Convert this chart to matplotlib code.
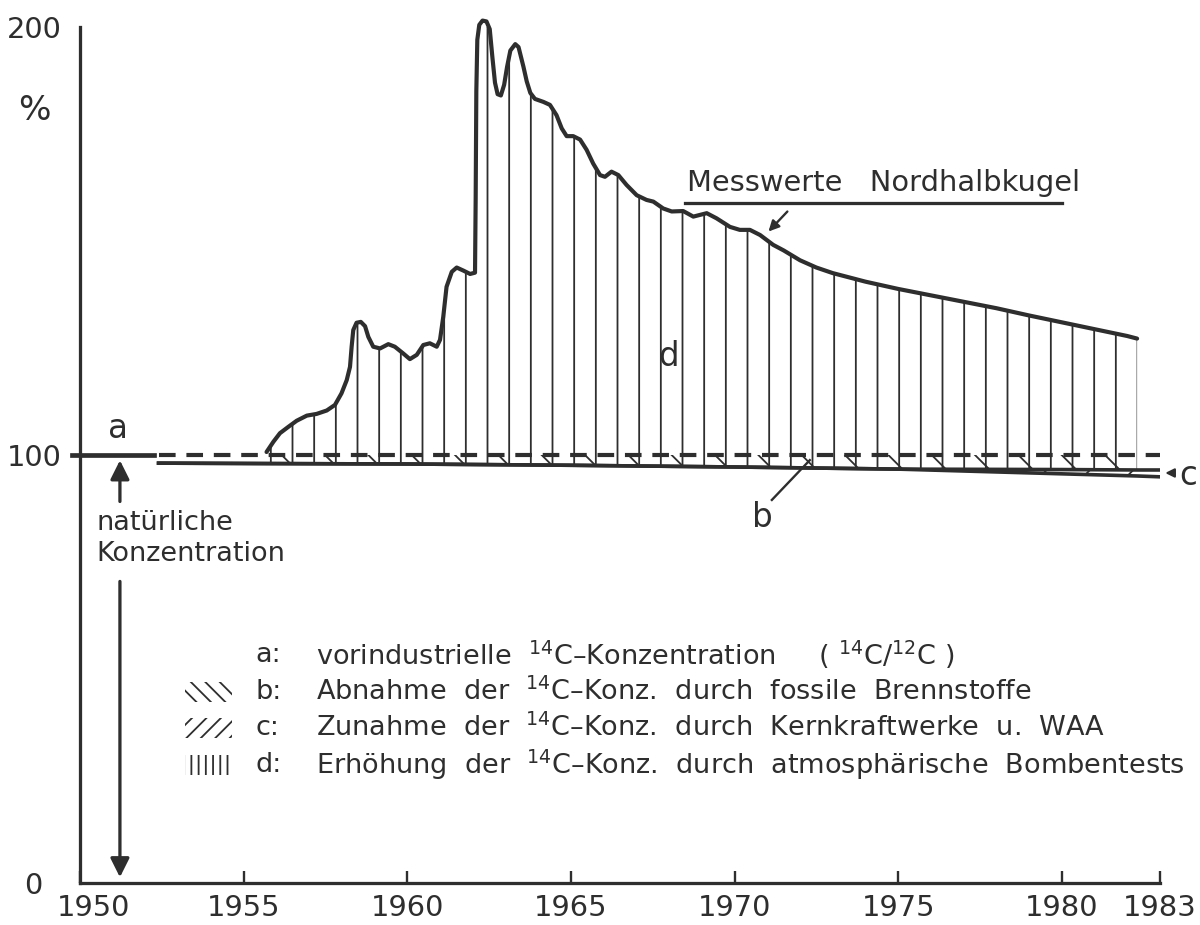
import matplotlib
matplotlib.use('Agg')
import numpy as np
import matplotlib.pyplot as plt
from matplotlib.patches import Rectangle
from matplotlib.transforms import ScaledTranslation

# measured 14C curve, northern hemisphere (% of natural level)
meas_years = [1955.70, 1955.91, 1956.11, 1956.37, 1956.62, 1956.93, 1957.23, 1957.54,
              1957.79, 1957.99, 1958.15, 1958.25, 1958.30, 1958.35, 1958.45, 1958.58,
              1958.71, 1958.81, 1958.96, 1959.17, 1959.42, 1959.62, 1959.88, 1960.08,
              1960.29, 1960.49, 1960.69, 1960.90, 1961.00, 1961.10, 1961.20, 1961.36,
              1961.51, 1961.71, 1961.92, 1962.07, 1962.09, 1962.11, 1962.14, 1962.20,
              1962.30, 1962.42, 1962.52, 1962.60, 1962.68, 1962.76, 1962.86, 1962.96,
              1963.05, 1963.15, 1963.30, 1963.40, 1963.55, 1963.65, 1963.76, 1963.90,
              1964.16, 1964.36, 1964.56, 1964.72, 1964.87, 1965.07, 1965.28, 1965.48,
              1965.68, 1965.89, 1966.04, 1966.24, 1966.45, 1966.70, 1967.01, 1967.31,
              1967.52, 1967.82, 1968.08, 1968.43, 1968.74, 1969.15, 1969.45, 1969.86,
              1970.16, 1970.47, 1970.78, 1971.18, 1971.50, 1972.00, 1972.50, 1973.00,
              1974.00, 1975.00, 1976.00, 1977.00, 1978.00, 1979.00, 1980.00, 1981.00,
              1982.00, 1982.30]
meas_vals = [100.7, 103.1, 105.1, 106.6, 108.0, 109.2, 109.6, 110.4,
             111.7, 114.4, 117.5, 120.6, 125.3, 129.2, 130.9, 131.1,
             130.1, 127.6, 125.3, 124.9, 125.9, 125.3, 123.7, 122.4,
             123.4, 125.7, 126.1, 125.3, 126.9, 132.3, 139.3, 142.8,
             143.8, 143.1, 142.3, 142.6, 160.0, 185.0, 197.0, 200.5,
             201.5, 201.3, 199.5, 193.0, 187.0, 184.3, 184.0, 186.5,
             190.7, 194.5, 196.0, 195.3, 190.7, 187.3, 184.6, 183.2,
             182.5, 181.8, 179.4, 176.3, 174.5, 174.5, 173.7, 171.3,
             168.1, 165.4, 165.0, 166.2, 165.4, 163.1, 160.7, 159.6,
             159.2, 157.6, 156.9, 157.0, 155.7, 156.5, 155.3, 153.3,
             152.6, 152.6, 151.4, 149.1, 147.8, 145.5, 143.8, 142.5,
             140.5, 138.8, 137.3, 135.8, 134.3, 132.6, 131.0, 129.4,
             127.8, 127.2]

# lower reference lines: b (fossil fuel decrease), c (b plus nuclear increase)
line_years = [1952.4, 1955.7, 1960.0, 1965.0, 1970.0, 1975.0, 1980.0, 1982.3, 1983.0]
b_vals = [98.1, 98.0, 97.9, 97.6, 97.2, 96.7, 95.6, 95.1, 94.9]
c_vals = [98.1, 98.0, 97.9, 97.6, 97.2, 96.7, 96.6, 96.5, 96.5]
natural = 100

xticks = [1950, 1955, 1960, 1965, 1970, 1975, 1980, 1983]
yticks = [0, 100, 200]

legend_keys = ['a:', 'b:', 'c:', 'd:']
legend_texts = [
    r'vorindustrielle  $^{14}$C–Konzentration     ( $^{14}$C/$^{12}$C )',
    r'Abnahme  der  $^{14}$C–Konz.  durch  fossile  Brennstoffe',
    r'Zunahme  der  $^{14}$C–Konz.  durch  Kernkraftwerke  u.  WAA',
    r'Erhöhung  der  $^{14}$C–Konz.  durch  atmosphärische  Bombentests',
]
legend_hatch = [None, '\\\\\\', '///', '|||']

ink = '#2e2e2e'
plt.rcParams['font.family'] = ['DejaVu Sans']
plt.rcParams['hatch.linewidth'] = 1.0
plt.rcParams['hatch.color'] = ink

DPI = 130
fig = plt.figure(figsize=(1200 / DPI, 925 / DPI), dpi=DPI)
ax = fig.add_axes([80 / 1200, 1 - 883 / 925, 1080 / 1200, 856 / 925])
ax.set_xlim(1950, 1983)
ax.set_ylim(0, 200)

for s in ['top', 'right']:
    ax.spines[s].set_visible(False)
for s in ['left', 'bottom']:
    ax.spines[s].set_linewidth(1.8)
    ax.spines[s].set_color(ink)

ax.set_xticks(xticks)
ax.set_xticklabels([str(t) for t in xticks])
ax.tick_params(axis='x', direction='in', length=6.5, width=1.3, colors=ink,
               labelsize=16, pad=6)
ax.set_yticks(yticks)
ax.set_yticklabels([str(t) for t in yticks])
ax.tick_params(axis='y', which='major', length=0, labelsize=16, pad=10, colors=ink)
ax.set_yticks([200], minor=True)
ax.tick_params(axis='y', which='minor', direction='in', length=8, width=1.8, colors=ink)
lab0 = ax.get_xticklabels()[0]
lab0.set_transform(lab0.get_transform() + ScaledTranslation(14 / DPI, 0, fig.dpi_scale_trans))
ylab0 = ax.get_yticklabels()[0]
ylab0.set_transform(ylab0.get_transform() + ScaledTranslation(-20 / DPI, 0, fig.dpi_scale_trans))

# hatched areas
mx = np.array(meas_years)
my = np.array(meas_vals)
lx = np.array(line_years)
cb = np.array(c_vals)
bb = np.array(b_vals)
seg = slice(1, 8)
ax.fill(np.r_[mx, lx[seg][::-1]], np.r_[my, cb[seg][::-1]],
        fill=False, hatch='|', lw=0, edgecolor=ink)
ax.fill(np.r_[lx[seg], lx[seg][::-1]], np.r_[np.full(7, natural), cb[seg][::-1]],
        fill=False, hatch='\\', lw=0, edgecolor=ink)
ax.fill(np.r_[lx[5:], lx[5:][::-1]], np.r_[bb[5:], cb[5:][::-1]],
        fill=False, hatch='/', lw=0, edgecolor=ink)

# lines
ax.plot(meas_years, meas_vals, color=ink, lw=2.3, solid_joinstyle='round',
        solid_capstyle='round', clip_on=False)
ax.plot(line_years, b_vals, color=ink, lw=2.0)
ax.plot(line_years, c_vals, color=ink, lw=2.0)
ax.plot([line_years[0], 1983], [natural, natural], color=ink, lw=2.3,
        dashes=(4, 2.6))
ax.plot([1949.75, 1952.25], [natural, natural], color=ink, lw=2.6, clip_on=False)

# annotations
ax.text(1948.6, 180.5, '%', fontsize=19, color=ink, ha='center', va='center')
ax.text(1951.16, 106.3, 'a', fontsize=18, color=ink, ha='center', va='center')
ax.text(1950.5, 80.4, 'natürliche\nKonzentration', fontsize=15, color=ink,
        ha='left', va='center', linespacing=1.25)
ax.annotate('', xy=(1951.22, 99.6), xytext=(1951.22, 88.3),
            arrowprops=dict(arrowstyle='-|>', color=ink, lw=1.8, mutation_scale=22))
ax.annotate('', xy=(1951.22, 0.5), xytext=(1951.22, 71.3),
            arrowprops=dict(arrowstyle='-|>', color=ink, lw=1.8, mutation_scale=22))
ax.text(1967.97, 122.9, 'd', fontsize=18, color=ink, ha='center', va='center')
ax.text(1968.55, 163.6, 'Messwerte   Nordhalbkugel', fontsize=16, color=ink,
        ha='left', va='center')
ax.plot([1968.5, 1980.0], [158.9, 158.9], color=ink, lw=1.8)
ax.annotate('', xy=(1970.96, 151.6), xytext=(1971.69, 157.5),
            arrowprops=dict(arrowstyle='-|>', color=ink, lw=1.3, mutation_scale=12))
ax.text(1970.84, 85.3, 'b', fontsize=18, color=ink, ha='center', va='center')
ax.plot([1971.14, 1972.3], [89.5, 98.8], color=ink, lw=1.3)
ax.text(1983.85, 95.3, 'c', fontsize=18, color=ink, ha='center', va='center',
        clip_on=False)
ax.annotate('', xy=(1983.05, 95.8), xytext=(1983.55, 95.8),
            arrowprops=dict(arrowstyle='-|>', color=ink, lw=1.2, mutation_scale=10),
            annotation_clip=False)

# legend
leg_y = [53.3, 44.6, 36.2, 27.6]
for key, txt, h, y in zip(legend_keys, legend_texts, legend_hatch, leg_y):
    ax.text(1955.35, y, key, fontsize=15, color=ink, ha='left', va='center')
    ax.text(1957.2, y, txt, fontsize=15, color=ink, ha='left', va='center')
    if h is not None:
        ax.add_patch(Rectangle((1953.2, y - 2.4), 1.45, 4.8, fill=False, hatch=h,
                               lw=0, edgecolor=ink))

fig.savefig('out.png', dpi=DPI)
